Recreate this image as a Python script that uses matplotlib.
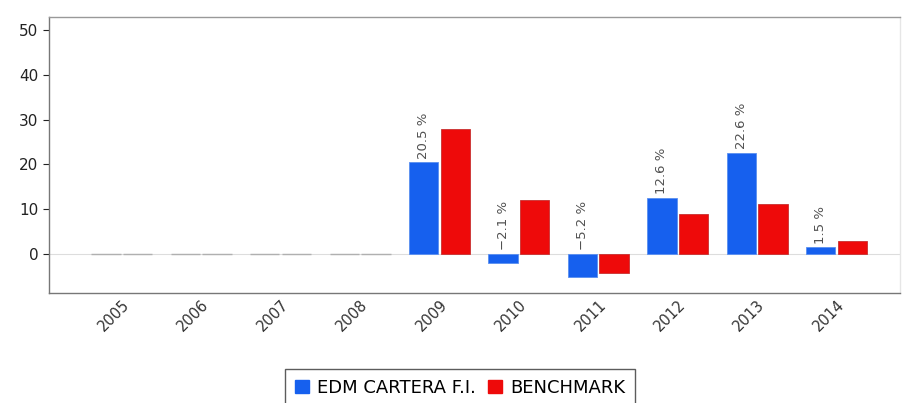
import matplotlib.pyplot as plt
import numpy as np

years = ['2005', '2006', '2007', '2008', '2009', '2010', '2011', '2012', '2013', '2014']
fund = [0, 0, 0, 0, 20.5, -2.1, -5.2, 12.6, 22.6, 1.5]
benchmark = [0, 0, 0, 0, 27.9, 12.0, -4.2, 8.9, 11.2, 2.9]
has_data = [False, False, False, False, True, True, True, True, True, True]

fund_color = '#1660ee'
bench_color = '#ee0a0a'

fig = plt.figure(figsize=(9.04, 4.03), dpi=100)
ax = fig.add_axes([0.054, 0.273, 0.9416, 0.685])

x = np.arange(len(years))
w = 0.37
off = 0.2

# empty years are drawn as flat grey bars on the zero line
for i in range(len(years)):
    if has_data[i]:
        ax.bar(x[i] - off, fund[i], w, color=fund_color, edgecolor='#5a8ff0', linewidth=0.6, zorder=3)
        ax.bar(x[i] + off, benchmark[i], w, color=bench_color, edgecolor='#c83030', linewidth=0.6, zorder=3)
    else:
        ax.bar(x[i] - off, fund[i], w, color='none', edgecolor='#b0b0b0', linewidth=1.0, zorder=3)
        ax.bar(x[i] + off, benchmark[i], w, color='none', edgecolor='#b0b0b0', linewidth=1.0, zorder=3)

# value labels above the fund bars
for i in range(len(years)):
    if not has_data[i]:
        continue
    v = fund[i]
    base = max(v, 0) + 0.8
    txt = ('%.1f %%' % v).replace('-', '\u2212')
    ax.text(x[i] - off, base, txt, rotation=90, ha='center', va='bottom',
            fontsize=9.5, color='#505050', zorder=4)

ax.axhline(0, color='#dddddd', linewidth=0.8, zorder=1)

ax.set_xlim(-0.92, 9.8)
ax.set_ylim(-8.7, 52.9)
ax.set_yticks([0, 10, 20, 30, 40, 50])
ax.set_xticks(x)
ax.set_xticklabels(years, rotation=45, ha='right', rotation_mode='anchor')

ax.tick_params(axis='y', labelsize=11, colors='#222222', length=4, width=0.8)
ax.tick_params(axis='x', labelsize=10.5, colors='#333333', length=0, pad=3)
for lab in ax.get_yticklabels():
    lab.set_color('#222222')

ax.spines['left'].set_color('#777777')
ax.spines['bottom'].set_color('#777777')
ax.spines['top'].set_color('#999999')
ax.spines['right'].set_color('#e6e6e6')
for s in ax.spines.values():
    s.set_linewidth(1.0)

handles = [plt.Rectangle((0, 0), 1, 1, color=fund_color),
           plt.Rectangle((0, 0), 1, 1, color=bench_color)]
leg = fig.legend(handles, ['EDM CARTERA F.I.', 'BENCHMARK'], loc='upper center',
                 bbox_to_anchor=(0.509, 1 - 369 / 403), ncol=2, fontsize=13,
                 frameon=True, fancybox=False, handlelength=0.75, handleheight=0.75,
                 handletextpad=0.45, columnspacing=0.7, borderpad=0.55, borderaxespad=0)
leg.get_frame().set_edgecolor('#333333')
leg.get_frame().set_linewidth(1.0)

fig.savefig('out.png', dpi=100)
